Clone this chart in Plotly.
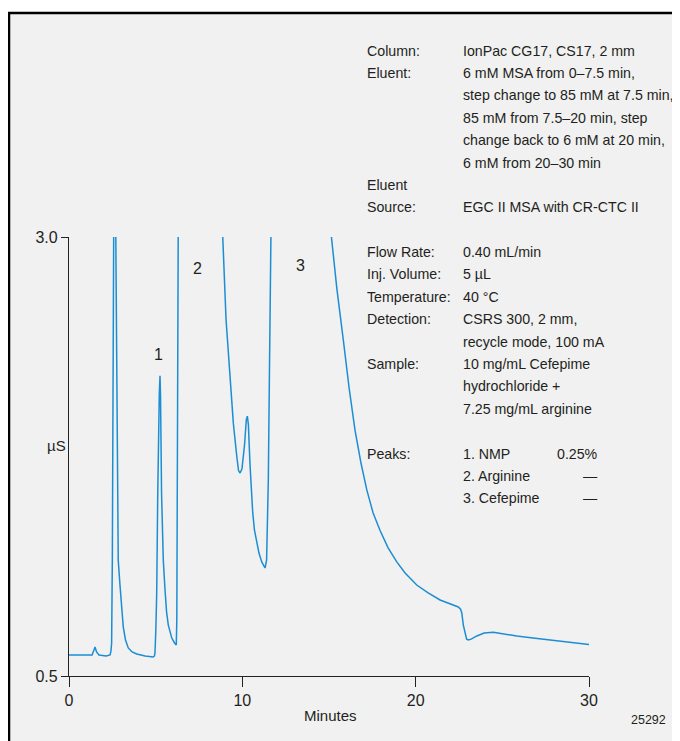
import plotly.graph_objects as go

# ---- data ----
time_min = [0.00, 1.33, 1.44, 1.50, 1.59, 1.73, 2.14, 2.37, 2.42, 2.46, 2.50, 2.53, 2.56, 2.62, 2.70,
            2.79, 2.84, 2.94, 3.04, 3.13, 3.26, 3.42, 3.64, 3.91, 4.39, 4.86, 4.93, 4.96, 5.01, 5.06,
            5.12, 5.17, 5.21, 5.25, 5.28, 5.34, 5.44, 5.54, 5.63, 5.73, 5.93, 6.09, 6.19, 6.22, 6.25,
            6.28, 6.30, 7.00, 8.00, 8.60, 8.87, 9.06, 9.29, 9.48, 9.68, 9.78, 9.87, 9.98, 10.13, 10.23,
            10.29, 10.35, 10.44, 10.53, 10.60, 10.70, 10.83, 10.96, 11.12, 11.22, 11.31, 11.40, 11.47,
            11.50, 11.56, 11.60, 12.20, 13.50, 14.80, 15.14, 15.46, 15.83, 16.16, 16.50, 16.85, 17.18,
            17.54, 17.94, 18.41, 18.91, 19.39, 20.06, 20.72, 21.41, 21.98, 22.46, 22.59, 22.66, 22.75,
            22.85, 22.94, 23.04, 23.20, 23.53, 23.95, 24.48, 25.04, 25.83, 26.77, 27.76, 28.91, 30.00]
conductance_uS = [0.620, 0.620, 0.648, 0.665, 0.637, 0.620, 0.614, 0.620, 0.642, 0.688, 1.16, 2.07, 3.00, 4.00, 3.00,
                  1.54, 1.16, 1.02, 0.876, 0.78, 0.705, 0.660, 0.637, 0.625, 0.614, 0.608, 0.614, 0.631, 0.762, 0.973,
                  1.54, 1.96, 2.11, 2.21, 2.10, 1.54, 1.16, 0.99, 0.864, 0.79, 0.716, 0.688, 0.677, 0.82, 1.50,
                  2.64, 3.00, 8.0, 8.0, 4.0, 3.00, 2.53, 2.19, 1.94, 1.75, 1.67, 1.656, 1.68, 1.82, 1.96,
                  1.98, 1.93, 1.71, 1.53, 1.43, 1.33, 1.26, 1.20, 1.15, 1.126, 1.115, 1.16, 1.39,
                  1.62, 2.19, 3.00, 8.0, 10.0, 5.0, 3.00, 2.70, 2.41, 2.14, 1.90, 1.71, 1.56,
                  1.43, 1.33, 1.23, 1.15, 1.087, 1.018, 0.973, 0.933, 0.910, 0.893, 0.880, 0.860, 0.790,
                  0.740, 0.710, 0.705, 0.710, 0.728, 0.745, 0.749, 0.742, 0.728, 0.716, 0.705, 0.690, 0.680]

x_ticks = [0, 10, 20, 30]
y_ticks = [0.5, 3.0]
y_tick_labels = ["0.5", "3.0"]

peak_labels = ["1", "2", "3"]
peak_label_x = [5.19, 7.39, 13.33]
peak_label_y = [2.33, 2.82, 2.84]

info_labels_top = ["Column:", "Eluent:", "", "", "", "", "Eluent", "Source:"]
info_values_top = ["IonPac CG17, CS17, 2 mm", "6 mM MSA from 0–7.5 min,",
                   "step change to 85 mM at 7.5 min,", "85 mM from 7.5–20 min, step",
                   "change back to 6 mM at 20 min,", "6 mM from 20–30 min", "",
                   "EGC II MSA with CR-CTC II"]
info_labels_bot = ["Flow Rate:", "Inj. Volume:", "Temperature:", "Detection:", "", "Sample:", "", "",
                   "", "Peaks:", "", ""]
info_values_bot = ["0.40 mL/min", "5 µL", "40 °C", "CSRS 300, 2 mm,", "recycle mode, 100 mA",
                   "10 mg/mL Cefepime", "hydrochloride +", "7.25 mg/mL arginine", "",
                   "1. NMP", "2. Arginine", "3. Cefepime"]
info_amounts_bot = ["", "", "", "", "", "", "", "", "", "0.25%", "—", "—"]

# ---- layout geometry (page pixels; the page body has an 8 px margin) ----
OFF = 8
W, H = 680 - OFF, 741 - OFF
L, R, T, B = 69, 589, 237, 676   # plot area in page pixels


def pxx(x):
    return (x - L) / (R - L)


def pxy(y):
    return (B - y) / (B - T)


FONT = "Liberation Sans, Arial, sans-serif"
FS = 14.2
TXT = "#231f20"
BLUE = "#1b8ed3"

fig = go.Figure()
fig.add_trace(go.Scatter(x=time_min, y=conductance_uS, mode="lines",
                         line=dict(color=BLUE, width=1.5), hoverinfo="skip",
                         showlegend=False))

annotations = []
for lab, xv, yv in zip(peak_labels, peak_label_x, peak_label_y):
    annotations.append(dict(x=xv, y=yv, xref="x", yref="y", text=lab, showarrow=False,
                            font=dict(family=FONT, size=16, color=TXT),
                            xanchor="center", yanchor="middle"))


def add_text(x, y, text, anchor="left", size=FS):
    annotations.append(dict(x=pxx(x), y=pxy(y), xref="paper", yref="paper", text=text,
                            showarrow=False, xanchor=anchor, yanchor="middle",
                            font=dict(family=FONT, size=size, color=TXT)))


x_lab, x_val, x_amt = 365, 461, 600
top0, step = 50.5, 22.4
for i, (a, b) in enumerate(zip(info_labels_top, info_values_top)):
    yy = top0 + i * step
    if a:
        add_text(x_lab, yy, a)
    if b:
        add_text(x_val, yy, b)
bot0 = 252
for i, (a, b, c) in enumerate(zip(info_labels_bot, info_values_bot, info_amounts_bot)):
    yy = bot0 + i * step
    if a:
        add_text(x_lab, yy, a)
    if b:
        add_text(x_val, yy, b)
    if c:
        add_text(x_amt, yy, c, anchor="right")

# axis titles / figure number
add_text(68, 445, "µS", anchor="right", size=15)
add_text(330, 715, "Minutes", anchor="center", size=15)
add_text(668, 720, "25292", anchor="right", size=12.5)

shapes = [dict(type="rect", xref="paper", yref="paper", layer="below",
               x0=pxx(9), x1=pxx(700), y0=pxy(760), y1=pxy(13),
               line=dict(color="#000000", width=2.5), fillcolor="#f1f1f1")]

fig.update_layout(
    width=W, height=H, autosize=False,
    margin=dict(l=L - OFF, r=W - (R - OFF), t=T - OFF, b=H - (B - OFF), pad=0),
    paper_bgcolor="#ffffff", plot_bgcolor="rgba(0,0,0,0)",
    annotations=annotations, shapes=shapes,
    xaxis=dict(range=[0, 30], tickvals=x_ticks, ticks="outside", ticklen=10, tickwidth=1.3,
               tickcolor="#222", showline=True, linecolor="#222", linewidth=1.3,
               showgrid=False, zeroline=False,
               tickfont=dict(family=FONT, size=16, color=TXT)),
    yaxis=dict(range=[0.5, 3.0], tickvals=y_ticks, ticktext=y_tick_labels, ticks="outside",
               ticklen=7, tickwidth=1.3, tickcolor="#222", showline=True, linecolor="#222",
               linewidth=1.3, showgrid=False, zeroline=False,
               tickfont=dict(family=FONT, size=16, color=TXT)),
)

fig.write_html("out.html")
